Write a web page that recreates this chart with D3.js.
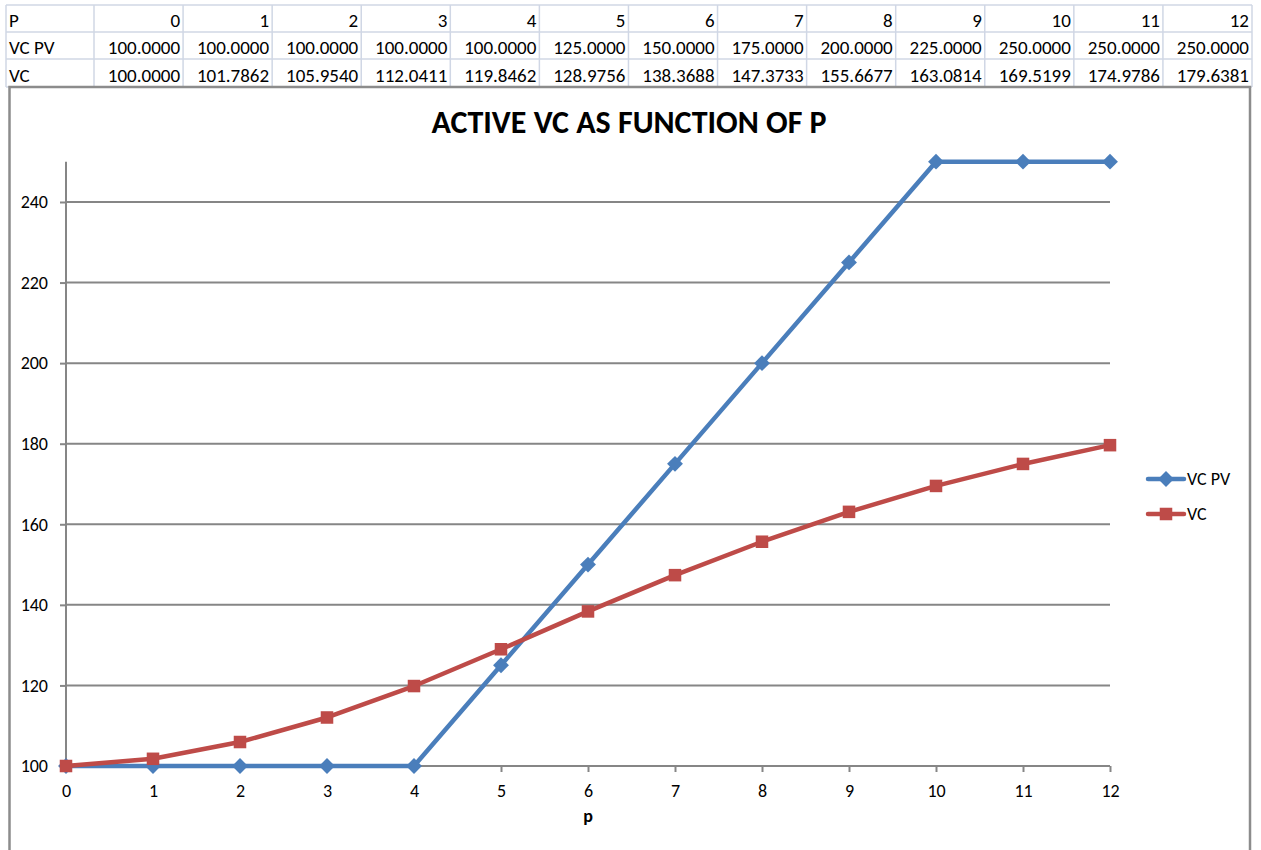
<!DOCTYPE html>
<html><head><meta charset="utf-8">
<script src="https://cdn.jsdelivr.net/npm/d3@7"></script>
<style>
html,body{margin:0;padding:0;background:#fff;}
svg{display:block;}
</style></head>
<body>
<svg id="chart" width="1261" height="850"></svg>
<script>
const pValues = [0,1,2,3,4,5,6,7,8,9,10,11,12];
const vcPV = [100,100,100,100,100,125,150,175,200,225,250,250,250];
const vc = [100,101.7862,105.9540,112.0411,119.8462,128.9756,138.3688,147.3733,155.6677,163.0814,169.5199,174.9786,179.6381];
const yTicks = [100,120,140,160,180,200,220,240];
const rowLabels = ["P","VC PV","VC"];
const seriesNames = ["VC PV","VC"];
const titleText = "ACTIVE VC AS FUNCTION OF P";
const xTitle = "p";

const svg = d3.select("#chart");
const font = "Carlito, Lato, 'Open Sans', sans-serif";

// ---- spreadsheet table ----
const colX = d3.scaleLinear().domain([0,13]).range([94,1252]);
const rowEdges = [5,32,59,87];
const tbl = svg.append("g");
rowEdges.forEach(yy=>{
  tbl.append("line").attr("x1",6).attr("x2",1252).attr("y1",yy).attr("y2",yy)
    .attr("stroke","#d0d7e5").attr("stroke-width",1.5);
});
tbl.append("line").attr("x1",6).attr("x2",6).attr("y1",5).attr("y2",87).attr("stroke","#d0d7e5").attr("stroke-width",1.5);
d3.range(14).forEach(c=>{
  tbl.append("line").attr("x1",colX(c)).attr("x2",colX(c)).attr("y1",5).attr("y2",87)
    .attr("stroke","#d0d7e5").attr("stroke-width",1.5);
});
const rows = [pValues.map(String), vcPV.map(v=>v.toFixed(4)), vc.map(v=>v.toFixed(4))];
rows.forEach((row,r)=>{
  const by = rowEdges[r+1]-5.5;
  tbl.append("text").attr("x",9).attr("y",by)
    .attr("font-family",font).attr("font-size",19).attr("fill","#000").text(rowLabels[r]);
  row.forEach((t,c)=>{
    tbl.append("text").attr("x",colX(c+1)-3).attr("y",by)
      .attr("text-anchor","end").attr("font-family",font).attr("font-size",19).attr("fill","#000").text(t);
  });
});

// ---- chart box ----
svg.append("rect").attr("x",9.5).attr("y",87).attr("width",1240.5).attr("height",780)
  .attr("fill","#fff").attr("stroke","#8c8c8c").attr("stroke-width",2.5);

const x = d3.scaleLinear().domain([0,12]).range([66,1110]);
const y = d3.scaleLinear().domain([100,250]).range([766,161.7]);

// gridlines
svg.append("g").selectAll("line").data(yTicks.filter(d=>d>100)).join("line")
  .attr("x1",x(0)).attr("x2",x(12)).attr("y1",d=>y(d)).attr("y2",d=>y(d))
  .attr("stroke","#868686").attr("stroke-width",2);

// y axis
const yAxis = d3.axisLeft(y).tickValues(yTicks).tickSize(6).tickPadding(12).tickFormat(d3.format("d"));
const gy = svg.append("g").attr("transform",`translate(${x(0)},0)`).call(yAxis);
gy.select(".domain").attr("stroke","#868686").attr("stroke-width",2).attr("d",`M0,${y(250)}V${y(100)}`);
gy.selectAll(".tick line").attr("stroke","#868686").attr("stroke-width",2);
gy.selectAll(".tick text").attr("font-family",font).attr("font-size",18).attr("fill","#000");

// x axis
const xAxis = d3.axisBottom(x).tickValues(pValues).tickSize(6).tickPadding(12).tickFormat(d3.format("d"));
const gx = svg.append("g").attr("transform",`translate(0,${y(100)})`).call(xAxis);
gx.select(".domain").attr("stroke","#868686").attr("stroke-width",2).attr("d",`M${x(0)},0H${x(12)}`);
gx.selectAll(".tick line").attr("stroke","#868686").attr("stroke-width",2);
gx.selectAll(".tick text").attr("font-family",font).attr("font-size",18).attr("fill","#000");

// titles
svg.append("text").attr("x",629).attr("y",133).attr("text-anchor","middle")
  .attr("font-family",font).attr("font-weight","bold").attr("font-size",32).attr("fill","#000").text(titleText);
svg.append("text").attr("x",x(6)).attr("y",822).attr("text-anchor","middle")
  .attr("font-family",font).attr("font-weight","bold").attr("font-size",18).attr("fill","#000").text(xTitle);

// series
const blue = "#4a7ebb", red = "#be4b48";
const line = d3.line().x((d,i)=>x(pValues[i])).y(d=>y(d));
const diamond = d3.symbol().type(d3.symbolDiamond2).size(160);
const square = d3.symbol().type(d3.symbolSquare2).size(200);

function drawSeries(data,color,sym){
  svg.append("path").datum(data).attr("d",line).attr("fill","none")
    .attr("stroke",color).attr("stroke-width",4.5).attr("stroke-linejoin","round").attr("stroke-linecap","round");
  svg.append("g").selectAll("path").data(data).join("path")
    .attr("transform",(d,i)=>`translate(${x(pValues[i])},${y(d)})`)
    .attr("d",sym).attr("fill",color);
}
drawSeries(vcPV,blue,diamond);
drawSeries(vc,red,square);

// legend
const leg = [{name:seriesNames[0],color:blue,sym:diamond,yy:479},{name:seriesNames[1],color:red,sym:square,yy:514}];
leg.forEach(l=>{
  svg.append("line").attr("x1",1148).attr("x2",1184).attr("y1",l.yy).attr("y2",l.yy)
    .attr("stroke",l.color).attr("stroke-width",4.5).attr("stroke-linecap","round");
  svg.append("path").attr("transform",`translate(1166,${l.yy})`).attr("d",l.sym).attr("fill",l.color);
  svg.append("text").attr("x",1187).attr("y",l.yy+6).attr("font-family",font).attr("font-size",18)
    .attr("fill","#000").text(l.name);
});
</script>
</body></html>
